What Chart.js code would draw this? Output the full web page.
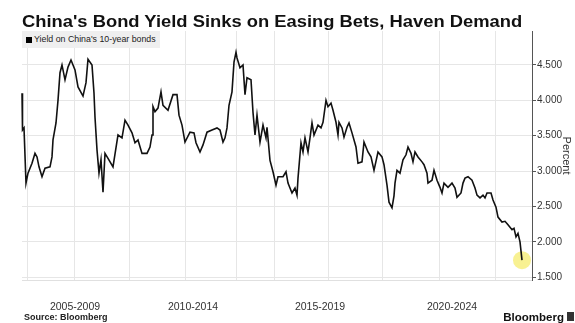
<!DOCTYPE html>
<html>
<head>
<meta charset="utf-8">
<script src="https://cdn.jsdelivr.net/npm/chart.js@4.4.1/dist/chart.umd.min.js"></script>
<style>
  html, body { margin: 0; padding: 0; background: #fff; }
  #wrap { position: relative; width: 575px; height: 323px; overflow: hidden; font-family: "Liberation Sans", Arial, sans-serif; }
  #chart { position: absolute; left: 0; top: 0; }
  .title { position: absolute; left: 22px; top: 12px; font-size: 17px; line-height: 20px; font-weight: bold; color: #111; white-space: nowrap; transform-origin: left top; }
  .legend { position: absolute; left: 22px; top: 31px; height: 17px; padding: 0 4px 0 4px; background: #efefef; font-size: 8.8px; line-height: 17px; color: #222; white-space: nowrap; }
  .legend i { display: inline-block; width: 6px; height: 6px; background: #000; margin-right: 2px; vertical-align: -0.5px; }
  .source { position: absolute; left: 24px; top: 311px; font-size: 9px; line-height: 12px; font-weight: bold; color: #222; }
  .brand { position: absolute; right: 11px; top: 309px; font-size: 11.5px; line-height: 16px; font-weight: bold; color: #111; }
  .brand-icon { position: absolute; left: 567px; top: 312px; width: 7px; height: 9px; background: #333; }
</style>
</head>
<body>
<div id="wrap">
  <canvas id="chart" width="575" height="323"></canvas>
  <div class="title" id="title">China's Bond Yield Sinks on Easing Bets, Haven Demand</div>
  <div class="legend"><i></i>Yield on China's 10-year bonds</div>
  <div class="source">Source: Bloomberg</div>
  <div class="brand">Bloomberg</div>
  <div class="brand-icon"></div>
</div>
<script>
// ==================== DATA ====================
const years = [
  2005.00, 2005.02, 2005.08, 2005.16, 2005.24, 2005.40, 2005.52, 2005.60, 2005.68, 2005.80, 2005.92,
  2006.12, 2006.20, 2006.24, 2006.36, 2006.44, 2006.52, 2006.60, 2006.72, 2006.84, 2006.96,
  2007.12, 2007.24, 2007.44, 2007.56, 2007.64, 2007.80, 2007.88, 2007.92,
  2008.00, 2008.08, 2008.16, 2008.24, 2008.32, 2008.44, 2008.64, 2008.84,
  2009.00, 2009.12, 2009.24, 2009.40, 2009.52, 2009.64, 2009.80,
  2010.00, 2010.12, 2010.20, 2010.24, 2010.32, 2010.44, 2010.56, 2010.64, 2010.84,
  2011.04, 2011.20, 2011.28, 2011.40, 2011.52, 2011.72, 2011.88, 2011.96,
  2012.12, 2012.24, 2012.40, 2012.60, 2012.80, 2012.92,
  2013.04, 2013.12, 2013.20, 2013.28, 2013.40, 2013.48, 2013.56, 2013.60, 2013.72, 2013.84, 2013.92,
  2014.00, 2014.16, 2014.24, 2014.32, 2014.40, 2014.52, 2014.64, 2014.76, 2014.80, 2014.92,
  2015.04, 2015.16, 2015.24, 2015.44, 2015.56, 2015.64, 2015.80, 2015.92,
  2016.00, 2016.04, 2016.16, 2016.24, 2016.32, 2016.44, 2016.52, 2016.60, 2016.68, 2016.84, 2016.96,
  2017.04, 2017.16, 2017.24, 2017.36, 2017.44, 2017.56, 2017.64, 2017.68, 2017.80, 2017.88,
  2018.00, 2018.08, 2018.20, 2018.36, 2018.44, 2018.60, 2018.68, 2018.84, 2018.96,
  2019.08, 2019.24, 2019.40, 2019.48, 2019.60, 2019.68, 2019.80, 2019.88, 2019.92,
  2020.00, 2020.12, 2020.24, 2020.36, 2020.44, 2020.56, 2020.64, 2020.72, 2020.84,
  2021.00, 2021.08, 2021.20, 2021.24, 2021.40, 2021.48, 2021.60, 2021.72, 2021.80, 2021.88,
  2022.04, 2022.20, 2022.32, 2022.40, 2022.56, 2022.64, 2022.72, 2022.84,
  2023.00, 2023.12, 2023.20, 2023.32, 2023.44, 2023.52, 2023.60, 2023.76, 2023.84, 2023.96,
  2024.04, 2024.20, 2024.32, 2024.44, 2024.60, 2024.68, 2024.76, 2024.84, 2024.92, 2025.00
];
const yields = [
  4.10, 3.58, 3.61, 2.83, 2.97, 3.11, 3.25, 3.20, 3.06, 2.92, 3.04,
  3.06, 3.20, 3.44, 3.68, 4.00, 4.39, 4.50, 4.29, 4.47, 4.57,
  4.43, 4.19, 4.06, 4.25, 4.58, 4.50, 4.10, 3.76,
  3.30, 2.97, 3.16, 2.70, 3.25, 3.18, 3.06, 3.51,
  3.47, 3.72, 3.65, 3.54, 3.40, 3.44, 3.25,
  3.25, 3.34, 3.51, 3.91, 3.84, 3.89, 4.12, 3.93, 3.86,
  4.08, 4.08, 3.79, 3.65, 3.41, 3.55, 3.54, 3.40,
  3.27, 3.37, 3.55, 3.58, 3.61, 3.58,
  3.41, 3.47, 3.61, 3.93, 4.12, 4.54, 4.68, 4.60, 4.46, 4.50, 4.08,
  4.32, 4.29, 3.83, 3.51, 3.79, 3.41, 3.65, 3.47, 3.62, 3.15,
  2.99, 2.80, 2.92, 2.92, 2.99, 2.83, 2.69, 2.76,
  2.66, 2.90, 3.40, 3.27, 3.47, 3.27, 3.47, 3.68, 3.51, 3.65, 3.61,
  3.69, 4.00, 3.91, 3.96, 3.86, 3.69, 3.51, 3.69, 3.61, 3.48,
  3.62, 3.68, 3.54, 3.34, 3.11, 3.13, 3.41, 3.27, 3.20,
  3.01, 3.27, 3.20, 3.09, 2.80, 2.56, 2.48, 2.65, 2.83,
  3.01, 2.97, 3.16, 3.23, 3.34, 3.25, 3.13, 3.27, 3.20,
  3.13, 3.09, 2.97, 2.83, 2.87, 3.01, 2.87, 2.77, 2.69, 2.83,
  2.77, 2.83, 2.76, 2.63, 2.69, 2.83, 2.90, 2.92,
  2.87, 2.76, 2.66, 2.62, 2.66, 2.62, 2.69, 2.69, 2.59, 2.49,
  2.35, 2.28, 2.29, 2.24, 2.17, 2.19, 2.07, 2.12, 2.00, 1.74
];
const gridYears = [2005.2, 2007.12, 2009.32, 2011.56, 2013.6, 2015.12, 2017.28, 2019.44, 2021.72, 2023.96];
const periodLabels = ['2005-2009', '2010-2014', '2015-2019', '2020-2024'];
const periodCenters = [2007.12, 2011.84, 2016.92, 2022.2];
const yTicks = [1.5, 2.0, 2.5, 3.0, 3.5, 4.0, 4.5];
const xMin = 2005.0, xMax = 2025.4;
const yMin = 1.46, yMax = 4.98;

// ==================== TITLE FIT ====================
const titleEl = document.getElementById('title');
const titleW = titleEl.offsetWidth;
if (titleW > 0) titleEl.style.transform = 'scaleX(' + (500 / titleW) + ')';

// ==================== CHART ====================
const points = yields.map((v, i) => ({ x: years[i], y: v }));
const last = points[points.length - 1];
const axisFont = { family: '"Liberation Sans", Arial, sans-serif', size: 10 };

new Chart(document.getElementById('chart').getContext('2d'), {
    type: 'line',
    data: {
        datasets: [{
            data: points,
            borderColor: '#111',
            borderWidth: 1.6,
            pointRadius: 0,
            tension: 0,
            clip: false,
            order: 1
        }, {
            type: 'scatter',
            data: [last],
            pointRadius: 9,
            pointBackgroundColor: 'rgba(246,236,110,0.75)',
            pointBorderWidth: 0,
            borderColor: 'rgba(0,0,0,0)',
            clip: false,
            order: 2
        }]
    },
    options: {
        responsive: false,
        animation: false,
        devicePixelRatio: 1,
        layout: { padding: { left: 22, top: 31, right: 0, bottom: 0 } },
        plugins: { legend: { display: false }, tooltip: { enabled: false } },
        scales: {
            x: {
                type: 'linear', position: 'bottom', min: xMin, max: xMax,
                afterBuildTicks: s => { s.ticks = gridYears.map(v => ({ value: v })); },
                ticks: { display: false },
                grid: { color: '#e6e6e6', drawTicks: false },
                border: { display: true, color: '#e0e0e0' },
                afterFit: s => { s.height = 0; }
            },
            xl: {
                type: 'linear', position: 'bottom', min: xMin, max: xMax,
                afterBuildTicks: s => { s.ticks = periodCenters.map(v => ({ value: v })); },
                ticks: {
                    autoSkip: false, maxRotation: 0, padding: 21,
                    font: { ...axisFont, size: 10.5 }, color: '#333',
                    callback: (v, i) => periodLabels[i]
                },
                grid: { display: false, drawTicks: false },
                border: { display: false },
                afterFit: s => { s.height = 43; }
            },
            y: {
                position: 'right', min: yMin, max: yMax,
                afterBuildTicks: s => { s.ticks = yTicks.map(v => ({ value: v })); },
                ticks: { font: axisFont, color: '#333', padding: 1, callback: v => v.toFixed(3) },
                grid: { color: '#e6e6e6', tickLength: 4, tickColor: '#555' },
                border: { color: '#555', width: 1 },
                title: { display: true, text: 'Percent', font: { ...axisFont, size: 11 }, color: '#333', padding: { top: 2, bottom: 0 } },
                afterFit: s => { s.width = 43; }
            }
        }
    }
});
</script>
</body>
</html>
